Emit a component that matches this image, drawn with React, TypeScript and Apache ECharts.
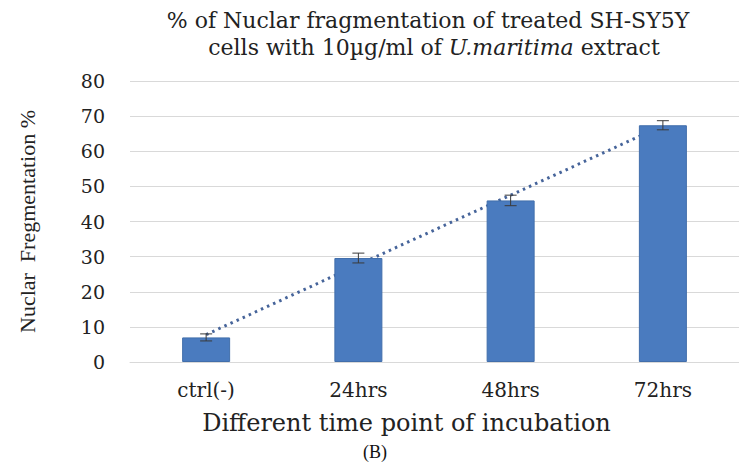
import React, { useEffect, useRef } from "react";
import * as echarts from "echarts";

const categories = ["ctrl(-)", "24hrs", "48hrs", "72hrs"];
const fragmentation = [7.0, 29.6, 46.0, 67.4];
const errors = [1.0, 1.4, 1.5, 1.3];
const trendline = [7.8, 27.7, 47.5, 67.3];
const yTicks = { min: 0, max: 80, interval: 10 };

const titleLine1 = "% of Nuclar fragmentation of treated SH-SY5Y";
const titleLine2 = "cells with 10µg/ml of {i|U.maritima} extract";
const xTitle = "Different time point of incubation";
const yTitle = "Nuclar  Fregmentation %";
const caption = "(B)";

export default function App() {
  const ref = useRef<HTMLDivElement>(null);
  useEffect(() => {
    if (!ref.current) return;
    const chart = echarts.init(ref.current, undefined, { renderer: "svg" });
    const serif = "DejaVu Serif";
    chart.setOption({
      animation: false,
      backgroundColor: "#ffffff",
      grid: { left: 130, right: -2, top: 81, bottom: 100, containLabel: false },
      graphic: [
        {
          type: "text",
          x: 428,
          y: 20,
          style: {
            text: titleLine1,
            fontFamily: serif,
            fontSize: 22,
            fill: "#222",
            align: "center",
            verticalAlign: "middle",
          },
        },
        {
          type: "text",
          x: 434,
          y: 47,
          style: {
            text: titleLine2,
            fontFamily: serif,
            fontSize: 22,
            fill: "#222",
            align: "center",
            verticalAlign: "middle",
            rich: {
              i: { fontFamily: serif, fontSize: 22, fontStyle: "italic", fill: "#222" },
            },
          },
        },
        {
          type: "text",
          x: 375,
          y: 452,
          style: {
            text: caption,
            fontFamily: "Liberation Serif",
            fontSize: 18,
            fill: "#111",
            align: "center",
            verticalAlign: "middle",
          },
        },
      ],
      xAxis: {
        type: "category",
        data: categories,
        name: xTitle,
        nameLocation: "middle",
        nameGap: 49,
        nameTextStyle: {
          fontFamily: serif,
          fontSize: 24,
          color: "#222",
          padding: [0, 56, 0, 0],
        },
        axisLine: { show: true, lineStyle: { color: "#d9d9d9", width: 1 } },
        axisTick: { show: false },
        axisLabel: { fontFamily: serif, fontSize: 20, color: "#222", margin: 18 },
      },
      yAxis: {
        type: "value",
        min: yTicks.min,
        max: yTicks.max,
        interval: yTicks.interval,
        name: yTitle,
        nameLocation: "middle",
        nameRotate: 90,
        nameGap: 92,
        nameTextStyle: { fontFamily: "Liberation Serif", fontSize: 22, color: "#222" },
        axisLine: { show: false },
        axisTick: { show: false },
        axisLabel: { fontFamily: serif, fontSize: 19, color: "#222", margin: 25 },
        splitLine: { lineStyle: { color: "#d9d9d9", width: 1 } },
      },
      series: [
        {
          type: "line",
          data: trendline,
          z: 1,
          symbol: "none",
          lineStyle: { color: "#46649a", width: 3, type: [2.5, 4.2] },
          silent: true,
        },
        {
          type: "bar",
          data: fragmentation,
          barWidth: 48,
          z: 2,
          itemStyle: { color: "#4a7bbf", borderColor: "#416eab", borderWidth: 1 },
        },
        {
          type: "custom",
          z: 3,
          data: fragmentation.map((v, i) => [i, v - errors[i], v + errors[i]]),
          renderItem: (params: any, api: any) => {
            const x = api.value(0);
            const lo = api.coord([x, api.value(1)]);
            const hi = api.coord([x, api.value(2)]);
            const half = 6;
            const style = { stroke: "#3a3a3a", lineWidth: 1 };
            return {
              type: "group",
              children: [
                { type: "line", shape: { x1: hi[0], y1: hi[1], x2: lo[0], y2: lo[1] }, style },
                { type: "line", shape: { x1: hi[0] - half, y1: hi[1], x2: hi[0] + half, y2: hi[1] }, style },
                { type: "line", shape: { x1: lo[0] - half, y1: lo[1], x2: lo[0] + half, y2: lo[1] }, style },
              ],
            };
          },
        },
      ],
    });
    return () => chart.dispose();
  }, []);
  return (
    <div
      ref={ref}
      style={{ position: "absolute", left: 0, top: 0, width: 739, height: 462 }}
    />
  );
}
